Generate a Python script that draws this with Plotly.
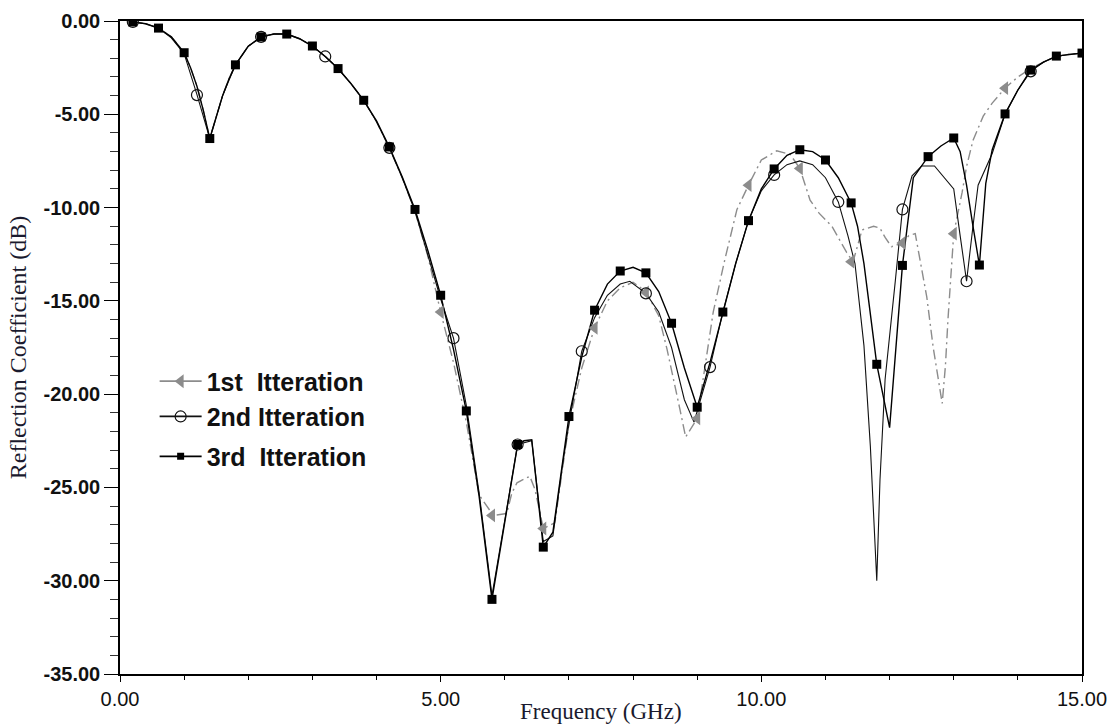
import plotly.graph_objects as go

# ---------------- data ----------------
# 1st iteration (grey dash-dot curve)
it1_x = [0.2, 0.4, 0.6, 0.8, 1.0, 1.1, 1.2, 1.3, 1.4, 1.5, 1.6, 1.7, 1.8, 2.0, 2.2, 2.4, 2.6, 2.8,
         3.0, 3.2, 3.4, 3.6, 3.8, 4.0, 4.2, 4.4, 4.6, 4.8, 5.0, 5.2, 5.4, 5.6, 5.82, 6.03, 6.11,
         6.19, 6.39, 6.47, 6.6, 6.78, 7.0, 7.2, 7.4, 7.6, 7.8, 8.0, 8.2, 8.4, 8.53, 8.73, 8.82,
         9.0, 9.1, 9.25, 9.43, 9.62, 9.8, 10.0, 10.24, 10.45, 10.6, 10.76, 10.9, 11.1, 11.33,
         11.43, 11.57, 11.75, 11.85, 11.93, 12.03, 12.2, 12.3, 12.4, 12.58, 12.68, 12.82, 12.87,
         12.91, 12.97, 13.0, 13.13, 13.2, 13.3, 13.46, 13.6, 13.8, 14.0, 14.2, 14.4, 14.6, 14.8, 15.0]
it1_y = [-0.05, -0.15, -0.38, -0.85, -1.7, -2.5, -3.5, -4.8, -6.3, -5.1, -4.0, -3.1, -2.35, -1.35,
         -0.85, -0.7, -0.7, -0.95, -1.35, -1.9, -2.55, -3.35, -4.25, -5.4, -6.8, -8.4, -10.2, -12.6,
         -15.6, -18.3, -21.5, -25.4, -26.5, -26.4, -25.3, -24.75, -24.4, -25.1, -27.2, -26.9, -21.6,
         -18.6, -16.45, -15.0, -14.3, -14.0, -14.5, -15.8, -17.6, -20.8, -22.3, -21.3, -19.0, -15.6,
         -12.8, -10.1, -8.8, -7.45, -6.96, -7.15, -7.9, -9.6, -10.3, -11.0, -12.4, -12.9, -11.2,
         -11.0, -11.1, -11.6, -12.1, -11.9, -11.5, -11.4, -14.8, -17.5, -20.5, -18.5, -16.0, -12.8,
         -11.4, -9.2, -7.8, -6.4, -5.1, -4.4, -3.6, -3.0, -2.55, -2.2, -1.9, -1.78, -1.72]
it1_mark_x = [5.0, 5.8, 6.6, 7.4, 8.2, 9.0, 9.8, 10.6, 11.4, 12.2, 13.0, 13.8]
it1_mark_y = [-15.6, -26.5, -27.2, -16.45, -14.55, -21.3, -8.8, -7.9, -12.9, -11.9, -11.4, -3.6]

# 2nd iteration (thin black curve, open circles)
it2_x = [0.2, 0.4, 0.6, 0.8, 1.0, 1.2, 1.4, 1.6, 1.8, 2.0, 2.2, 2.4, 2.6, 2.8, 3.0, 3.2, 3.4, 3.6,
         3.8, 4.0, 4.2, 4.4, 4.6, 4.8, 5.0, 5.2, 5.4, 5.6, 5.8, 6.2, 6.42, 6.6, 6.75, 6.9, 7.0, 7.2,
         7.4, 7.6, 7.8, 7.95, 8.2, 8.4, 8.6, 8.8, 8.95, 9.2, 9.4, 9.6, 9.8, 10.0, 10.2, 10.4, 10.6,
         10.8, 11.0, 11.2, 11.35, 11.46, 11.6, 11.7, 11.77, 11.8, 11.85, 11.93, 12.09, 12.2, 12.35,
         12.5, 12.7, 12.85, 13.0, 13.1, 13.2, 13.3, 13.38, 13.6, 13.8, 14.0, 14.2, 14.4, 14.6, 14.8, 15.0]
it2_y = [-0.05, -0.15, -0.38, -0.9, -1.75, -3.95, -6.3, -4.0, -2.35, -1.35, -0.85, -0.7, -0.7, -0.95,
         -1.35, -1.9, -2.55, -3.35, -4.25, -5.4, -6.8, -8.4, -10.2, -12.5, -14.9, -17.0, -20.6,
         -25.3, -30.8, -22.7, -22.5, -27.9, -27.6, -23.8, -21.6, -17.7, -15.9, -14.7, -14.1, -13.95,
         -14.6, -15.6, -17.5, -20.3, -21.5, -18.55, -15.6, -13.0, -10.7, -9.1, -8.25, -7.7, -7.5,
         -7.7, -8.4, -9.7, -11.5, -13.0, -17.4, -22.8, -28.2, -30.0, -24.6, -19.2, -13.9, -10.1,
         -8.3, -7.77, -7.77, -8.4, -9.0, -11.5, -13.95, -11.0, -8.8, -7.1, -5.0, -3.7, -2.7, -2.2,
         -1.9, -1.78, -1.72]
it2_mark_x = [0.2, 1.2, 2.2, 3.2, 4.2, 5.2, 6.2, 7.2, 8.2, 9.2, 10.2, 11.2, 12.2, 13.2, 14.2]
it2_mark_y = [-0.05, -3.97, -0.85, -1.9, -6.8, -17.0, -22.7, -17.7, -14.6, -18.55, -8.25, -9.7,
              -10.1, -13.95, -2.7]

# 3rd iteration (black curve, filled squares)
it3_x = [0.2, 0.4, 0.6, 0.8, 1.0, 1.1, 1.2, 1.3, 1.4, 1.5, 1.6, 1.7, 1.8, 2.0, 2.2, 2.4, 2.6, 2.8,
         3.0, 3.2, 3.4, 3.6, 3.8, 4.0, 4.2, 4.4, 4.6, 4.8, 5.0, 5.2, 5.4, 5.6, 5.8, 6.2, 6.3, 6.42,
         6.6, 6.75, 6.9, 7.0, 7.2, 7.4, 7.6, 7.8, 8.0, 8.2, 8.4, 8.6, 8.8, 9.0, 9.2, 9.4, 9.6, 9.8,
         10.0, 10.2, 10.4, 10.6, 10.8, 11.0, 11.2, 11.4, 11.5, 11.6, 11.8, 12.0, 12.2, 12.37, 12.6,
         12.8, 13.0, 13.1, 13.2, 13.3, 13.4, 13.5, 13.6, 13.8, 14.0, 14.2, 14.4, 14.6, 14.8, 15.0]
it3_y = [-0.05, -0.15, -0.38, -0.85, -1.7, -2.5, -3.5, -4.8, -6.3, -5.1, -4.0, -3.1, -2.35, -1.35,
         -0.85, -0.7, -0.7, -0.95, -1.34, -1.9, -2.55, -3.35, -4.25, -5.35, -6.75, -8.35, -10.1,
         -12.3, -14.7, -17.6, -20.9, -25.5, -31.0, -22.7, -22.5, -22.45, -28.2, -27.4, -23.5, -21.2,
         -18.0, -15.5, -14.1, -13.4, -13.2, -13.5, -14.5, -16.2, -18.6, -20.7, -18.3, -15.6, -13.0,
         -10.7, -9.0, -7.93, -7.2, -6.9, -7.0, -7.45, -8.4, -9.75, -11.0, -13.0, -18.4, -21.8, -13.1,
         -8.4, -7.27, -6.7, -6.27, -7.0, -8.8, -11.0, -13.08, -8.7, -6.9, -4.98, -3.7, -2.63, -2.2,
         -1.88, -1.78, -1.72]
it3_mark_x = [round(0.2 + 0.4 * k, 1) for k in range(38)]
it3_mark_y = [-0.05, -0.38, -1.7, -6.3, -2.35, -0.85, -0.7, -1.34, -2.55, -4.25, -6.75, -10.1,
              -14.7, -20.9, -31.0, -22.7, -28.2, -21.2, -15.5, -13.4, -13.5, -16.2, -20.7, -15.6,
              -10.7, -7.93, -6.9, -7.45, -9.75, -18.4, -13.1, -7.27, -6.27, -13.08, -4.98, -2.63,
              -1.88, -1.72]

series_names = ["1st  Itteration", "2nd Itteration", "3rd  Itteration"]
x_tick_vals = [0, 5, 10, 15]
x_tick_text = ["0.00", "5.00", "10.00", "15.00"]
y_tick_vals = [-35, -30, -25, -20, -15, -10, -5, 0]
y_tick_text = ["-35.00", "-30.00", "-25.00", "-20.00", "-15.00", "-10.00", "-5.00", "0.00"]
x_title = "Frequency (GHz)"
y_title = "Reflection Coefficient (dB)"

# ---------------- styles ----------------
GREY = "#8c8c8c"
DASHDOT = "10px,4px,2px,4px"
styles = [
    dict(line=dict(color=GREY, width=1.4, dash=DASHDOT),
         marker=dict(symbol="triangle-left", size=12, color=GREY, line=dict(width=0))),
    dict(line=dict(color="#111111", width=1.1),
         marker=dict(symbol="circle-open", size=11, color="#111111", line=dict(width=1.2))),
    dict(line=dict(color="#000000", width=1.4),
         marker=dict(symbol="square", size=9, color="#000000", line=dict(width=0))),
]
lines = [(it1_x, it1_y), (it2_x, it2_y), (it3_x, it3_y)]
marks = [(it1_mark_x, it1_mark_y), (it2_mark_x, it2_mark_y), (it3_mark_x, it3_mark_y)]
legend_ids = ["legend", "legend2", "legend3"]
legend_y = [0.448, 0.394, 0.333]

fig = go.Figure()
for i in range(3):
    st = styles[i]
    fig.add_trace(go.Scatter(x=lines[i][0], y=lines[i][1], mode="lines", line=st["line"],
                             showlegend=False, hoverinfo="skip"))
for i in range(3):
    st = styles[i]
    fig.add_trace(go.Scatter(x=marks[i][0], y=marks[i][1], mode="markers", marker=st["marker"],
                             showlegend=False))
# legend entries
for i in range(3):
    st = styles[i]
    leg_marker = dict(st["marker"])
    if i == 2:
        leg_marker = dict(symbol="square", size=7, color="#000000", line=dict(width=0))
    fig.add_trace(go.Scatter(x=[None], y=[None], mode="lines+markers", name=series_names[i],
                             line=dict(color=st["line"]["color"], width=1.8),
                             marker=leg_marker, legend=legend_ids[i]))

legend_font = dict(family="Liberation Sans, Arial, sans-serif", size=25, color="#111111",
                   weight="bold")
leg_common = dict(bgcolor="rgba(0,0,0,0)", borderwidth=0, font=legend_font,
                  itemwidth=42, xanchor="left", yanchor="middle", x=0.036)
title_font = dict(family="Liberation Serif, Times New Roman, serif", size=24, color="#1a1a2e")
x_title_font = dict(family="Liberation Serif, Times New Roman, serif", size=23, color="#1a1a2e")
fig.update_layout(
    width=1110, height=727,
    margin=dict(l=120, r=28, t=21, b=53),
    plot_bgcolor="white", paper_bgcolor="white",
    legend=dict(leg_common, y=legend_y[0]),
    legend2=dict(leg_common, y=legend_y[1]),
    legend3=dict(leg_common, y=legend_y[2]),
    font=dict(family="Liberation Sans, Arial, sans-serif", color="#111111"),
    annotations=[dict(text=x_title, xref="paper", yref="paper", x=0.5, y=-0.058,
                      xanchor="center", yanchor="middle", showarrow=False, font=x_title_font)],
)
x_tick_font = dict(family="Liberation Sans, Arial, sans-serif", size=20, color="#111111")
y_tick_font = dict(family="Liberation Sans, Arial, sans-serif", size=20, color="#111111",
                   weight="bold")
fig.update_xaxes(
    range=[0, 15], tickvals=x_tick_vals, ticktext=x_tick_text, tickfont=x_tick_font,
    showline=True, linecolor="black", linewidth=1.5, mirror=True,
    ticks="outside", ticklen=6, tickwidth=1, tickcolor="black",
    minor=dict(dtick=1, ticks="outside", ticklen=4, tickcolor="black"),
    showgrid=False, zeroline=False, automargin=False,
)
fig.update_yaxes(
    range=[-35, 0], tickvals=y_tick_vals, ticktext=y_tick_text, tickfont=y_tick_font,
    showline=True, linecolor="black", linewidth=1.5, mirror=True,
    ticks="outside", ticklen=14, tickwidth=1.2, tickcolor="black",
    minor=dict(dtick=1, ticks="outside", ticklen=8, tickcolor="#333333"),
    showgrid=False, zeroline=False, automargin=False,
    title=dict(text=y_title, font=title_font, standoff=10),
)
fig.write_html("out.html")
